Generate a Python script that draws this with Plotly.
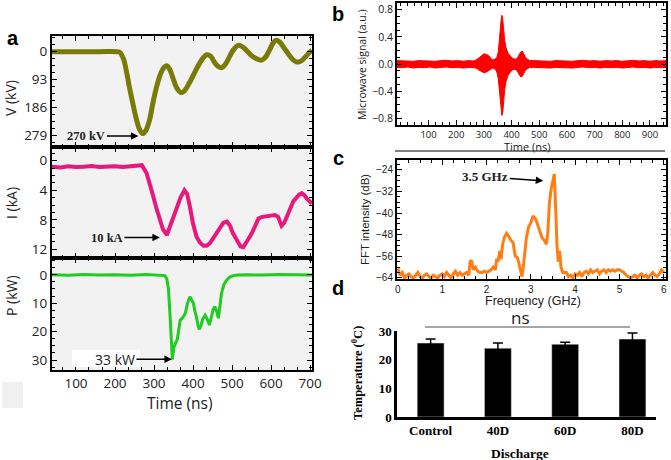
import plotly.graph_objects as go

W, H = 671, 460

# panel a: voltage / current / power waveforms
t_v = [38.5, 100, 160, 205, 213, 222, 230, 238, 247, 255,
       263, 271, 279, 288, 298, 308, 318, 326, 333, 340,
       348, 358, 369, 378, 390, 402, 414, 425, 435, 445,
       455, 465, 474, 483, 493, 503, 516, 528, 540, 552,
       565, 576, 586, 596, 605, 613, 622, 632, 643, 655,
       665, 672, 680, 690, 698, 705]
v_kv = [0, 0, 0, 0, 3, 25, 70, 125, 180, 225,
        258, 272, 262, 230, 165, 110, 70, 52, 47, 58,
        85, 120, 136, 130, 105, 75, 45, 22, 10, 15,
        35, 50, 53, 42, 18, -5, -21, -15, 0, 15,
        25, 28, 18, -5, -28, -38, -32, -15, 5, 25,
        34, 34, 28, 15, 3, -5]

t_i = [38.5, 60, 80, 100, 120, 140, 160, 180, 200, 220,
       240, 260, 269, 281, 290, 298, 306, 315, 323, 333,
       340, 348, 358, 368, 378, 385, 392, 400, 409, 418,
       427, 435, 443, 452, 461, 470, 478, 487, 495, 502,
       509, 516, 522, 529, 536, 543, 551, 559, 568, 578,
       589, 600, 610, 618, 627, 634, 641, 649, 657, 665,
       672, 679, 686, 693, 699, 705]
i_ka = [0.8, 0.9, 0.75, 0.85, 0.8, 0.7, 0.85, 0.8, 0.75, 0.85,
        0.8, 0.75, 0.6, 1.7, 3.2, 4.8, 6.4, 8.0, 9.3, 10.05,
        9.0, 7.8, 6.7, 5.0, 4.0, 4.5, 6.2, 8.5, 10.3, 11.1,
        11.5, 11.5, 11.2, 10.5, 9.8, 8.9, 8.4, 8.25, 8.8, 9.8,
        10.5, 11.2, 11.6, 11.7, 11.2, 10.5, 9.8, 8.8, 7.8, 7.6,
        7.5, 7.45, 7.35, 7.6, 8.8, 8.4, 7.35, 6.5, 5.5, 5.0,
        4.6, 4.4, 4.7, 5.2, 5.5, 5.8]

t_p = [38.5, 80, 120, 160, 200, 240, 280, 320, 328, 333,
       337, 341, 344, 347, 351, 355, 360, 367, 374, 380,
       386, 392, 397, 401, 405, 409, 413, 416, 420, 425,
       431, 436, 442, 447, 452, 456, 461, 465, 469, 473,
       479, 486, 494, 503, 515, 540, 580, 620, 660, 705]
p_kw = [0, 0.2, -0.1, 0.1, 0, 0.15, -0.1, 0.1, 0.3, 1.5,
        5, 14, 24, 29.8, 25.5, 24, 22.5, 16, 15, 13.6,
        10, 7.7, 9, 10, 13, 15, 18, 19.2, 18, 15.5,
        14.2, 15.5, 17.7, 15, 12, 11.2, 13, 15.3, 11, 6.5,
        3.5, 1.9, 0.8, 0.3, 0.1, 0, 0.1, -0.1, 0, 0.1]

# panel b: microwave signal, upper / lower envelope of the noisy trace
t_mw = [-14, 5, 25, 45, 65, 85, 105, 125, 145, 165, 185, 205, 225, 245, 262,
        272, 282, 292, 300, 308, 316, 324, 332, 340, 347,
        352, 356, 359, 362, 365, 368, 371, 375, 380, 387,
        395, 405, 415, 423, 429, 434, 439, 444, 450, 458, 466,
        480, 500, 520, 540, 560, 580, 600, 620, 640, 660, 680, 700, 720,
        740, 760, 780, 800, 820, 840, 860, 880, 900, 920, 940, 958]
mw_upper = [0.05, 0.045, 0.05, 0.04, 0.05, 0.045, 0.05, 0.04, 0.05, 0.055, 0.045, 0.05, 0.04, 0.05, 0.045,
            0.06, 0.09, 0.12, 0.15, 0.14, 0.13, 0.09, 0.06, 0.07, 0.1,
            0.18, 0.32, 0.5, 0.64, 0.72, 0.66, 0.5, 0.35, 0.24, 0.16,
            0.12, 0.08, 0.07, 0.1, 0.15, 0.18, 0.19, 0.15, 0.1, 0.07, 0.05,
            0.05, 0.045, 0.05, 0.04, 0.05, 0.045, 0.05, 0.04, 0.05, 0.055, 0.045, 0.05, 0.04,
            0.05, 0.045, 0.05, 0.04, 0.05, 0.055, 0.045, 0.05, 0.04, 0.05, 0.045, 0.05]
mw_lower = [-0.05, -0.055, -0.045, -0.06, -0.05, -0.055, -0.045, -0.06, -0.05, -0.045, -0.055, -0.05, -0.06, -0.05, -0.055,
            -0.06, -0.09, -0.11, -0.13, -0.12, -0.1, -0.08, -0.06, -0.07, -0.12,
            -0.22, -0.4, -0.58, -0.7, -0.76, -0.72, -0.55, -0.38, -0.26, -0.17,
            -0.12, -0.08, -0.08, -0.12, -0.17, -0.19, -0.18, -0.13, -0.09, -0.07, -0.05,
            -0.05, -0.055, -0.05, -0.06, -0.05, -0.055, -0.05, -0.06, -0.05, -0.045, -0.055, -0.05, -0.06,
            -0.05, -0.055, -0.05, -0.06, -0.05, -0.045, -0.055, -0.05, -0.06, -0.05, -0.055, -0.05]

# panel c: FFT spectrum
f_ghz = [0.00, 0.05, 0.10, 0.15, 0.20, 0.25, 0.30, 0.35, 0.40, 0.45,
         0.50, 0.55, 0.60, 0.65, 0.70, 0.75, 0.80, 0.85, 0.90, 0.95,
         1.00, 1.05, 1.10, 1.15, 1.20, 1.25, 1.30, 1.35, 1.40, 1.45,
         1.50, 1.55, 1.60, 1.63, 1.66, 1.70, 1.75, 1.80, 1.85, 1.90,
         1.95, 2.00, 2.05, 2.10, 2.15, 2.20, 2.23, 2.26, 2.30, 2.33,
         2.36, 2.40, 2.45, 2.50, 2.55, 2.60, 2.65, 2.70, 2.75, 2.80,
         2.83, 2.86, 2.90, 2.95, 3.00, 3.05, 3.10, 3.15, 3.20, 3.25,
         3.30, 3.35, 3.38, 3.42, 3.46, 3.50, 3.53, 3.56, 3.59, 3.62,
         3.65, 3.68, 3.72, 3.80, 3.85, 3.90, 3.95, 4.00, 4.05, 4.10,
         4.15, 4.20, 4.25, 4.30, 4.35, 4.40, 4.45, 4.50, 4.55, 4.60,
         4.65, 4.70, 4.75, 4.80, 4.85, 4.90, 4.95, 5.00, 5.05, 5.10,
         5.15, 5.20, 5.25, 5.30, 5.35, 5.40, 5.45, 5.50, 5.55, 5.60,
         5.65, 5.70, 5.75, 5.80, 5.85, 5.90, 5.95, 6.00]
fft_db = [-60.5, -63, -62, -64, -63, -62.5, -63.5, -64, -63, -62,
          -63.5, -64, -63, -62.5, -63.5, -64, -63, -63.5, -64, -63,
          -62.5, -63.5, -62, -63, -64, -62.5, -61.5, -63, -62, -63,
          -62.5, -62, -63, -58, -57.5, -61, -60, -61.5, -62, -62,
          -61.5, -62, -61.5, -61, -60, -61, -57, -58, -54, -57,
          -52, -49, -47.5, -48.5, -50, -51, -56, -56.5, -60, -63.5,
          -60, -55, -49, -45, -43.5, -41, -42, -44, -47, -49,
          -50, -51.5, -48, -36, -31, -27, -25.5, -38, -52, -58,
          -54, -60, -62, -62, -63.5, -63, -64, -62.5, -63, -62,
          -63.5, -62, -61.5, -62.5, -61, -62, -61.5, -61, -62.5, -61.5,
          -61, -62, -61, -61.5, -61, -61.5, -61, -61, -61.5, -62,
          -63, -63.5, -64, -63.5, -63, -64, -63, -62.5, -63.5, -63,
          -64, -63, -62, -63, -63.5, -62.5, -61, -62]

# panel d: temperature after discharge
groups = ["Control", "40D", "60D", "80D"]
temp_c = [25.8, 24.0, 25.4, 27.2]
temp_err = [1.4, 1.8, 0.7, 2.1]


def X(px):
    return px / W


def Y(py):
    return 1 - py / H


def frame(**kw):
    d = dict(showline=True, linecolor="black", linewidth=2, mirror="allticks",
             ticks="inside", ticklen=5, tickwidth=1.2, tickcolor="black",
             showgrid=False, zeroline=False, automargin=False)
    d.update(kw)
    return d


def minor(step):
    return dict(ticks="inside", ticklen=3, tickcolor="black", dtick=step, showgrid=False)


fig = go.Figure()

fig.add_trace(go.Scatter(x=t_v, y=v_kv, mode="lines", line=dict(color="#7a7a08", width=5, shape="spline"),
                         xaxis="x", yaxis="y"))
fig.add_trace(go.Scatter(x=t_i, y=i_ka, mode="lines", line=dict(color="#e8187c", width=4),
                         xaxis="x2", yaxis="y2"))
fig.add_trace(go.Scatter(x=t_p, y=p_kw, mode="lines", line=dict(color="#20cc20", width=3),
                         xaxis="x3", yaxis="y3"))
fig.add_trace(go.Scatter(x=t_mw, y=mw_upper, mode="lines", line=dict(color="#ff0000", width=1),
                         xaxis="x4", yaxis="y4"))
fig.add_trace(go.Scatter(x=t_mw, y=mw_lower, mode="lines", line=dict(color="#ff0000", width=1),
                         fill="tonexty", fillcolor="#ff0000", xaxis="x4", yaxis="y4"))
fig.add_trace(go.Scatter(x=f_ghz, y=fft_db, mode="lines", line=dict(color="#ff7d12", width=3),
                         xaxis="x5", yaxis="y5"))
fig.add_trace(go.Bar(x=groups, y=temp_c, width=0.4, marker_color="black",
                     error_y=dict(type="data", array=temp_err, color="black", thickness=1.5, width=5),
                     xaxis="x6", yaxis="y6"))

fa = dict(family="Open Sans", size=13.5, color="#222")
fser = dict(family="Liberation Serif", size=13, color="black", weight="bold")
xa_dom = [X(52), X(312)]
lay = dict(
    width=W, height=H, autosize=False, showlegend=False,
    margin=dict(l=0, r=0, t=0, b=0, autoexpand=False),
    paper_bgcolor="white", plot_bgcolor="#f2f2f2",
    xaxis=frame(domain=xa_dom, range=[38.5, 705], anchor="y", dtick=100, tick0=0,
                showticklabels=False, minor=minor(100 / 3)),
    yaxis=frame(domain=[Y(147), Y(36)], range=[316.5, -52], anchor="x", tick0=0, dtick=93,
                tickfont=fa, minor=minor(23.25)),
    xaxis2=frame(domain=xa_dom, range=[38.5, 705], anchor="y2", dtick=100, tick0=0,
                 showticklabels=False, minor=minor(100 / 3)),
    yaxis2=frame(domain=[Y(258), Y(147)], range=[13.17, -1.86], anchor="x2", tick0=0, dtick=4,
                 tickfont=fa, minor=minor(1)),
    xaxis3=frame(domain=xa_dom, range=[38.5, 705], anchor="y3", dtick=100, tick0=0,
                 tickfont=fa, minor=minor(100 / 3)),
    yaxis3=frame(domain=[Y(370), Y(258)], range=[33.5, -5.9], anchor="x3", tick0=0, dtick=10,
                 tickfont=fa, minor=minor(2.5)),
    xaxis4=frame(domain=[X(397), X(666)], range=[-14, 958], anchor="y4",
                 tickvals=[100, 200, 300, 400, 500, 600, 700, 800, 900],
                 tickfont=dict(family="Open Sans", size=9.5, color="#222"), minor=minor(25)),
    yaxis4=frame(domain=[Y(125), Y(3)], range=[-0.9, 0.9], anchor="x4", dtick=0.4, tick0=0,
                 tickformat=".1f", tickfont=dict(family="Open Sans", size=10.5, color="#222"),
                 minor=minor(0.1)),
    xaxis5=frame(domain=[X(397), X(666)], range=[-0.02, 6.05], anchor="y5", dtick=1, tick0=0,
                 tickfont=dict(family="Liberation Sans", size=10, color="#222"), minor=minor(0.25)),
    yaxis5=frame(domain=[Y(279), Y(160)], range=[-64.4, -20.3], anchor="x5", dtick=8, tick0=-64,
                 tickfont=dict(family="Liberation Sans", size=10, color="#222"), minor=minor(2)),
    xaxis6=dict(domain=[X(397), X(656)], range=[-0.5, 3.35], anchor="y6", type="category",
                showline=True, linecolor="black", linewidth=2.5, ticks="", showgrid=False,
                automargin=False, tickfont=fser),
    yaxis6=dict(domain=[Y(417), Y(331)], range=[0, 30], anchor="x6", dtick=10,
                showline=True, linecolor="black", linewidth=2.5, ticks="", showgrid=False,
                zeroline=False, automargin=False, tickfont=fser),
)
fig.update_layout(**lay)

# panels b, c and d have a white plot background
for y0, y1 in [(420, 329), (279, 160), (125, 3)]:
    fig.add_shape(type="rect", xref="paper", yref="paper", x0=X(397), x1=X(666), y0=Y(y0), y1=Y(y1),
                  fillcolor="white", line_width=0, layer="below")

# stray artefacts from the source figure
fig.add_shape(type="rect", xref="paper", yref="paper", x0=X(72), x1=X(140), y0=Y(367), y1=Y(350),
              fillcolor="white", line_width=0, layer="above")
fig.add_shape(type="rect", xref="paper", yref="paper", x0=X(2), x1=X(23), y0=Y(408), y1=Y(382),
              fillcolor="#f0f0f0", line_width=0)
fig.add_shape(type="line", xref="paper", yref="paper", x0=X(395), x1=X(665), y0=Y(151), y1=Y(151),
              line=dict(color="#555", width=1.5))
# significance bar
fig.add_shape(type="line", xref="paper", yref="paper", x0=X(425), x1=X(630), y0=Y(327), y1=Y(327),
              line=dict(color="#888", width=1.5))


def note(text, px, py, size, family="Open Sans", angle=0, color="#222", bold=False):
    weight = "bold" if bold else "normal"
    fig.add_annotation(text=text, x=X(px), y=Y(py), xref="paper", yref="paper", showarrow=False,
                       xanchor="center", yanchor="middle", textangle=angle,
                       font=dict(family=family, size=size, color=color, weight=weight))


# panel letters
note("a", 13, 38, 20, "Liberation Sans", color="black", bold=True)
note("b", 338, 14, 20, "Liberation Sans", color="black", bold=True)
note("c", 338, 158, 20, "Liberation Sans", color="black", bold=True)
note("d", 338, 288, 20, "Liberation Sans", color="black", bold=True)

# axis titles
note("V (kV)", 10, 98, 14, angle=-90)
note("I (kA)", 11, 203, 14, angle=-90)
note("P (kW)", 11, 296, 14, angle=-90)
note("Time (ns)", 180, 403, 15.5)
note("Microwave signal (a.u.)", 362, 65, 10.5, angle=-90)
note("Time (ns)", 527, 146.5, 11)
note("FFT intensity (dB)", 365, 220, 11.5, "Liberation Sans", angle=-90)
note("Frequency (GHz)", 533, 301, 12.5, "Liberation Sans")
note("Temperature (<sup>0</sup>C)", 357, 373, 12.5, "Liberation Serif", angle=-90, color="black", bold=True)
note("Discharge", 520, 453, 13.5, "Liberation Serif", color="black", bold=True)
note("ns", 520, 317, 17, color="#222")

# value call-outs with arrows
arrow = dict(showarrow=True, arrowhead=2, arrowsize=1, arrowwidth=1.5, arrowcolor="black")
fig.add_annotation(text="270 kV", x=260, y=280, xref="x", yref="y", ax=-52, ay=0,
                   font=dict(family="Liberation Serif", size=12.5, color="#222", weight="bold"), **arrow)
fig.add_annotation(text="10 kA", x=315, y=10.4, xref="x2", yref="y2", ax=-53, ay=0,
                   font=dict(family="Liberation Serif", size=12.5, color="#222", weight="bold"), **arrow)
fig.add_annotation(text="33 kW", x=346, y=29.7, xref="x3", yref="y3", ax=-57, ay=0,
                   font=dict(family="Open Sans", size=14, color="#222"), **arrow)
fig.add_annotation(text="3.5 GHz", x=3.28, y=-28, xref="x5", yref="y5", ax=-58, ay=-4,
                   font=dict(family="Liberation Serif", size=13, color="#222", weight="bold"), **arrow)

# drop the browser's default page margin so the figure sits at the window corner
fig.write_html("out.html", config={"displayModeBar": False},
               post_script="document.body.style.margin='0';")
